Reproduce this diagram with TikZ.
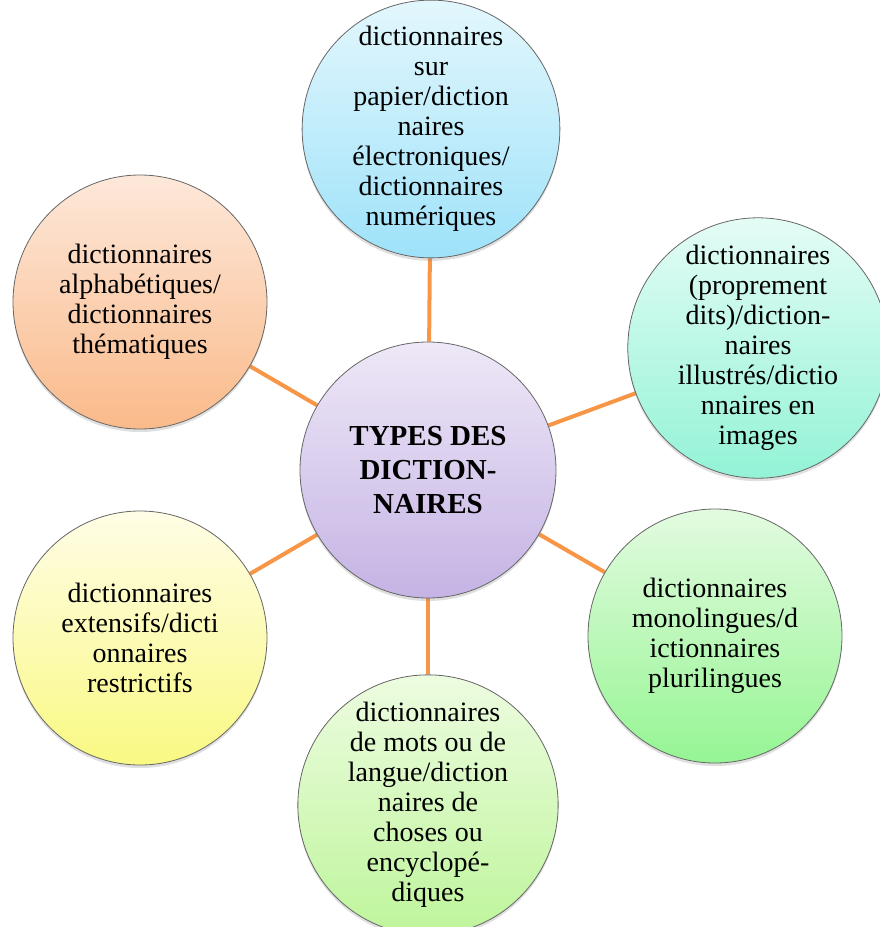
\documentclass[tikz,border=0pt]{standalone}
\usepackage{fontspec}
\setmainfont{Liberation Serif}
\usepackage{tikz}
\usetikzlibrary{shadows,backgrounds}

\definecolor{spokeorange}{HTML}{F79646}
\definecolor{hubtop}{HTML}{EEE8F7}
\definecolor{hubbot}{HTML}{C5B3E4}
\definecolor{skytop}{HTML}{E3F7FD}
\definecolor{skybot}{HTML}{9EE2F9}
\definecolor{aquatop}{HTML}{E4FCF5}
\definecolor{aquabot}{HTML}{93F3D6}
\definecolor{mintop}{HTML}{E3FBE0}
\definecolor{minbot}{HTML}{95F593}
\definecolor{limetop}{HTML}{EDFCE0}
\definecolor{limebot}{HTML}{BEF59B}
\definecolor{lemontop}{HTML}{FFFDE6}
\definecolor{lemonbot}{HTML}{F9F983}
\definecolor{peachtop}{HTML}{FDE8DA}
\definecolor{peachbot}{HTML}{FABA8A}

\begin{document}
\begin{tikzpicture}[x=1pt,y=-1pt,
	bubble/.style={circle, draw=black!60, line width=0.8pt, minimum size=254pt, inner sep=0pt, align=center,
		font=\fontsize{28}{30}\selectfont,
		drop shadow={opacity=0.25, shadow xshift=0pt, shadow yshift=-3pt}},
	hub/.style={bubble, minimum size=256pt, font=\fontsize{29}{34}\selectfont\bfseries},
	spoke/.style={draw=spokeorange, line width=4pt}]
	
	% Fix the page to the size of the diagram
	\useasboundingbox (0,0) rectangle (880,927);
	
	% Central circle
	\node[hub, top color=hubtop, bottom color=hubbot] (types) at (428,470) {TYPES DES\\DICTION-\\NAIRES};
	
	% Surrounding circles, clockwise from the top
	\node[bubble, top color=skytop, bottom color=skybot] (support) at (431,129)
	{dictionnaires\\sur\\papier/diction\\naires\\électroniques/\\dictionnaires\\numériques};
	\node[bubble, top color=aquatop, bottom color=aquabot] (images) at (758,348)
	{dictionnaires\\(proprement\\dits)/diction-\\naires\\illustrés/dictio\\nnaires en\\images};
	\node[bubble, top color=mintop, bottom color=minbot] (langues) at (715,636)
	{dictionnaires\\monolingues/d\\ictionnaires\\plurilingues};
	\node[bubble, top color=limetop, bottom color=limebot] (choses) at (428,805)
	{dictionnaires\\de mots ou de\\langue/diction\\naires de\\choses ou\\encyclopé-\\diques};
	\node[bubble, top color=lemontop, bottom color=lemonbot] (etendue) at (140,638)
	{dictionnaires\\extensifs/dicti\\onnaires\\restrictifs};
	\node[bubble, top color=peachtop, bottom color=peachbot] (ordre) at (140,302)
	{dictionnaires\\alphabétiques/\\dictionnaires\\thématiques};
	
	% Spokes behind the circles
	\begin{scope}[on background layer]
		\foreach \n in {support,images,langues,choses,etendue,ordre}
		\draw[spoke] (types) -- (\n);
	\end{scope}
\end{tikzpicture}
\end{document}
